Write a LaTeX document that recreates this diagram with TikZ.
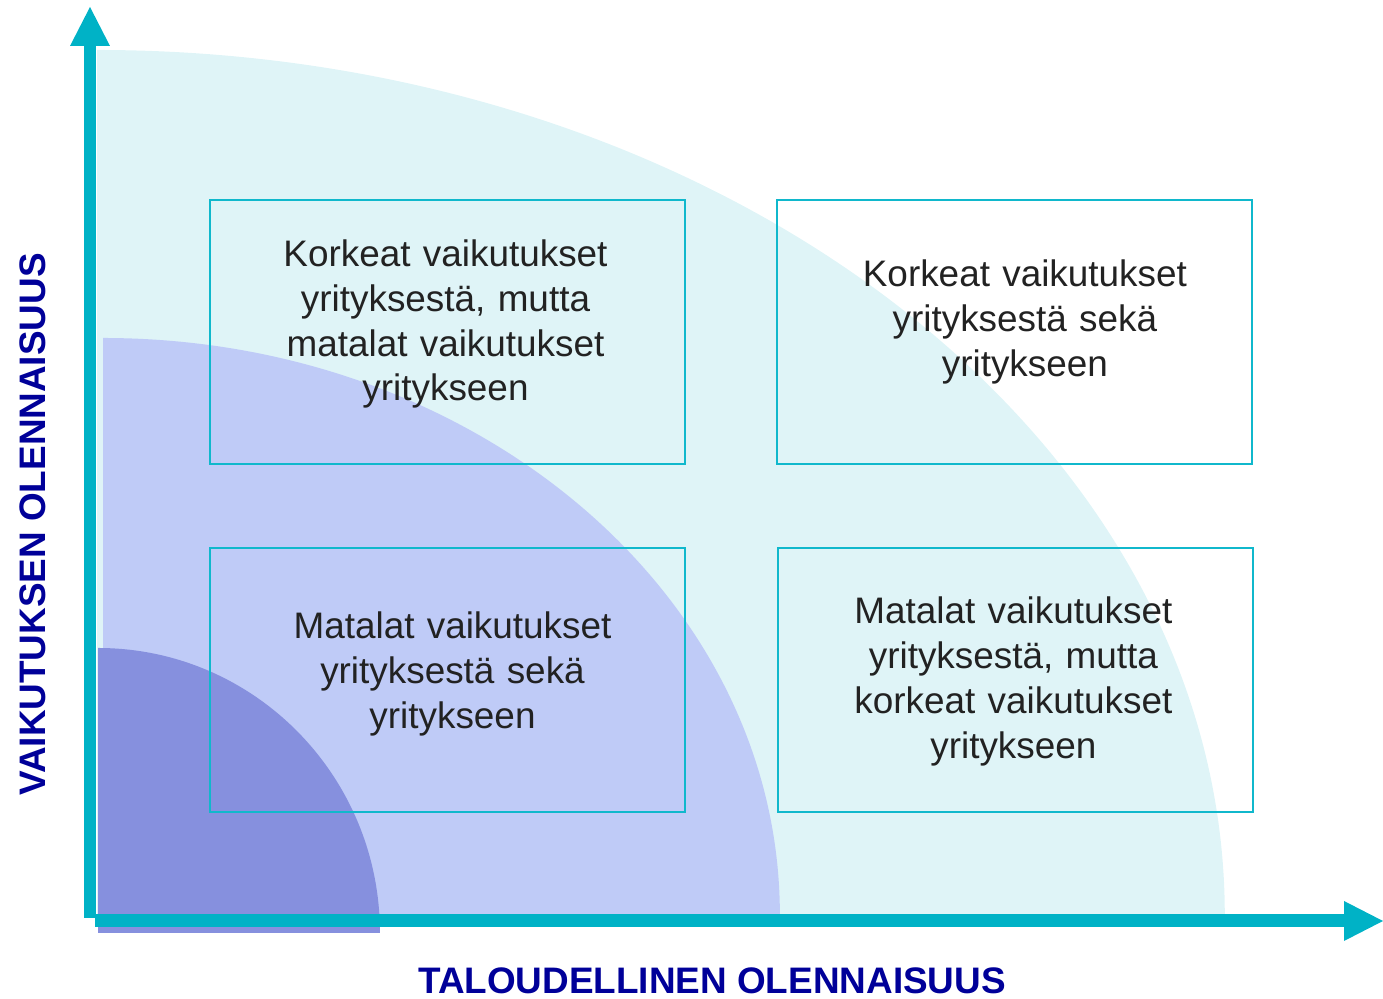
\documentclass[tikz,border=0pt]{standalone}
\usepackage{fontspec}
\setmainfont{Liberation Sans}
\usetikzlibrary{arrows.meta}
\definecolor{axiscyan}{RGB}{0,178,198}
\definecolor{boxcyan}{RGB}{16,184,204}
\definecolor{bigfill}{RGB}{223,244,247}
\definecolor{midfill}{RGB}{191,203,247}
\definecolor{smallfill}{RGB}{134,144,222}
\definecolor{labelblue}{RGB}{0,0,153}
\definecolor{textgray}{RGB}{34,34,34}
\begin{document}
\begin{tikzpicture}[x=0.02cm,y=0.02cm]
	\tikzstyle{quadbox} = [rectangle,draw=boxcyan,line width=1.2pt,minimum width=9.5cm,
	minimum height=5.28cm]
	\tikzstyle{quadtext} = [text width=9cm,align=center,text=textgray,
	font=\fontsize{21}{25.6}\selectfont]
	\tikzstyle{axislabel} = [text=labelblue,inner sep=1pt,font=\fontsize{21}{25}\selectfont\bfseries]
	\tikzstyle{axisline} = [draw=axiscyan,line width=0.26cm,
	-{Triangle[width=0.8cm,length=0.78cm,line width=0pt]}]
	\useasboundingbox (0,0) rectangle (1383,999);
	% quarter areas
	\fill[bigfill] (97,84) -- ++(0,865) arc[start angle=90,end angle=0,x radius=22.56cm,y radius=17.3cm] -- cycle;
	\fill[midfill] (103,84) -- ++(0,577) arc[start angle=90,end angle=0,x radius=13.54cm,y radius=11.54cm] -- cycle;
	\fill[smallfill] (98,66) -- ++(0,285) arc[start angle=90,end angle=0,x radius=5.64cm,y radius=5.7cm] -- cycle;
	% boxes
	\node (box1) [quadbox] at (447.5,667) {};
	\node (box2) [quadbox, right of=box1,node distance=11.35cm] {};
	\node (box3) [quadbox, below of=box1,node distance=6.97cm] {};
	\node (box4) [quadbox, right of=box3,node distance=11.36cm] {};
	\node (text1) [quadtext] at ([shift={(-2,8)}]box1.center) {Korkeat vaikutukset\\ yrityksestä, mutta\\ matalat vaikutukset\\ yritykseen};
	\node (text2) [quadtext] at ([shift={(10,10)}]box2.center) {Korkeat vaikutukset\\ yrityksestä sekä\\ yritykseen};
	\node (text3) [quadtext] at ([shift={(5,6)}]box3.center) {Matalat vaikutukset\\ yrityksestä sekä\\ yritykseen};
	\node (text4) [quadtext] at ([shift={(-2,-1.5)}]box4.center) {Matalat vaikutukset\\ yrityksestä, mutta\\ korkeat vaikutukset\\ yritykseen};
	% axes
	\coordinate (ybase) at (90,81);
	\coordinate (ytip) at (90,992);
	\coordinate (xbase) at (95,78);
	\coordinate (xtip) at (1383,78);
	\draw[axisline] (ybase) -- (ytip);
	\draw[axisline] (xbase) -- (xtip);
	\node (xlabel) [axislabel] at (712,18.5) {TALOUDELLINEN OLENNAISUUS};
	\node (ylabel) [axislabel,rotate=90] at (33,474.5) {VAIKUTUKSEN OLENNAISUUS};
\end{tikzpicture}
\end{document}
